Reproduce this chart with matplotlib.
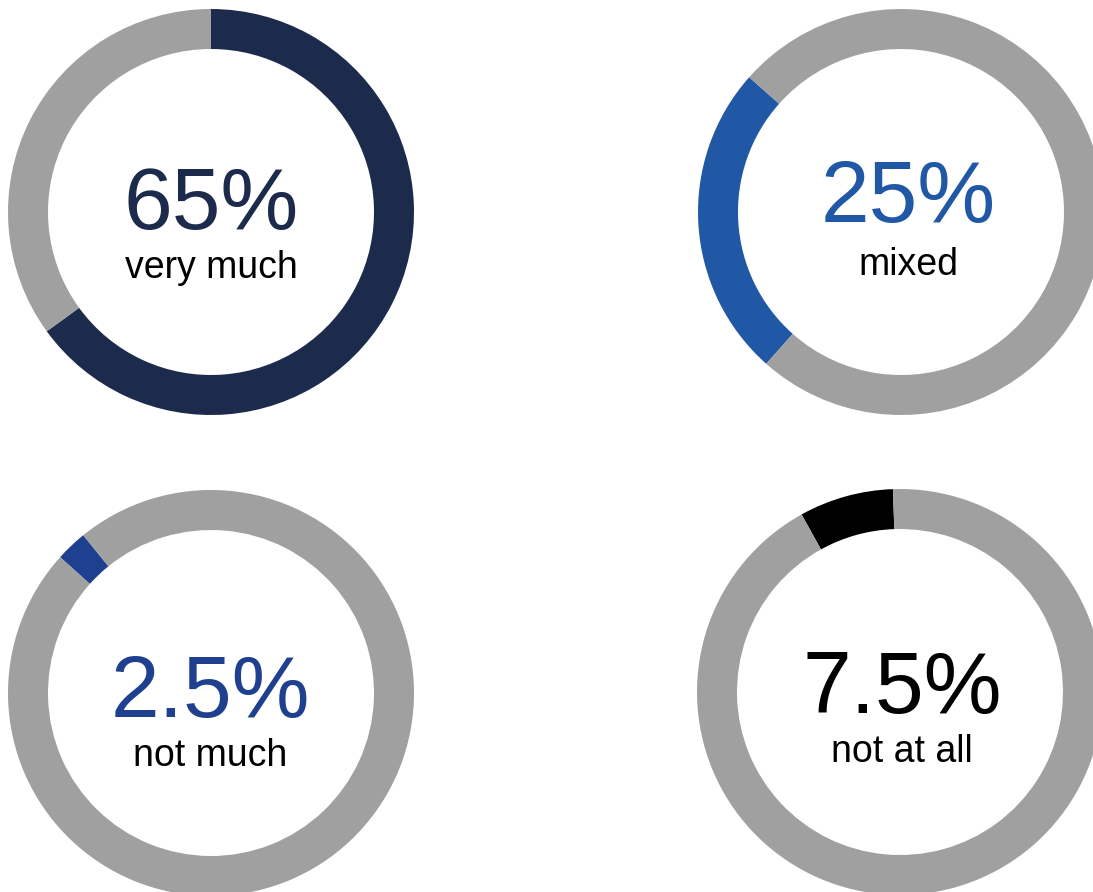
import matplotlib
matplotlib.use('Agg')
import matplotlib.pyplot as plt

plt.rcParams['font.family'] = ['Liberation Sans', 'DejaVu Sans']

# Donut values (percent share of the highlighted segment)
values = [65, 25, 2.5, 7.5]
pct_text = ['65%', '25%', '2.5%', '7.5%']
labels = ['very much', 'mixed', 'not much', 'not at all']
colors = ['#1c2a4b', '#2058a6', '#1f3f8f', '#000000']
ring_gray = '#a0a0a0'

# where each highlighted segment starts (degrees, matplotlib convention)
start_angles = [90, 138.4, 129, 92]
clockwise = [True, False, False, False]

# layout in pixel space (origin top-left)
centers = [(211, 212), (901, 212), (211, 693), (900, 692)]
text_x = [211, 908, 210, 902]
pct_base = [229, 222, 717, 713]
label_base = [278, 275, 766, 762]
W, H = 1093, 892
R, RING = 203, 40

fig = plt.figure(figsize=(W / 100, H / 100), dpi=100)
ax = fig.add_axes([0, 0, 1, 1])

for i in range(4):
    cx, cy = centers[i]
    ax.pie([values[i], 100 - values[i]], colors=[colors[i], ring_gray],
           startangle=start_angles[i], counterclock=not clockwise[i],
           center=(cx, H - cy), radius=R,
           wedgeprops=dict(width=RING, linewidth=0))
    ax.text(text_x[i], H - pct_base[i], pct_text[i], color=colors[i],
            fontsize=63, ha='center', va='baseline')
    ax.text(text_x[i], H - label_base[i], labels[i], color='black',
            fontsize=27, ha='center', va='baseline')

ax.set_xlim(0, W)
ax.set_ylim(0, H)
ax.set_aspect('equal')
ax.axis('off')

fig.savefig('out.png', dpi=100, facecolor='white')
